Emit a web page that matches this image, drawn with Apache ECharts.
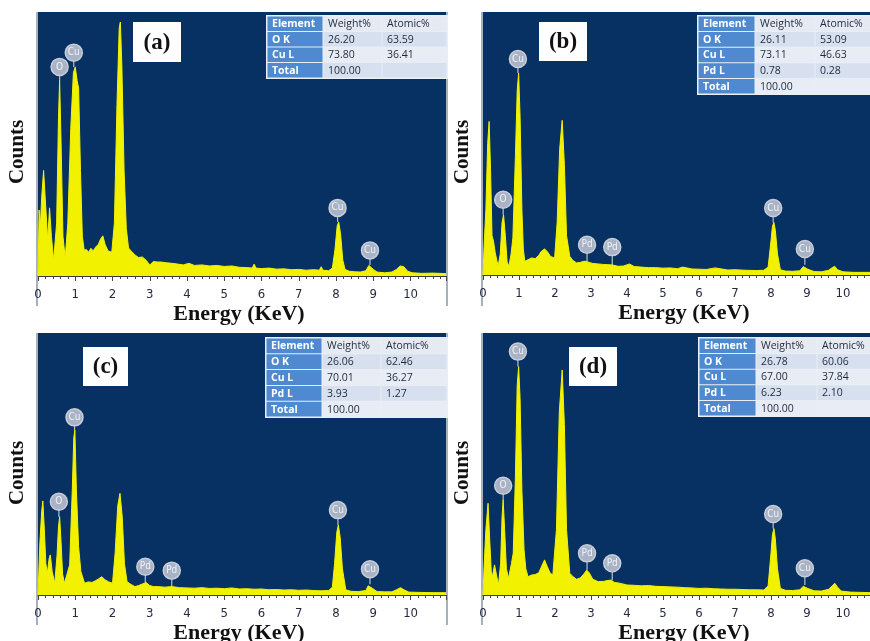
<!DOCTYPE html>
<html>
<head>
<meta charset="utf-8">
<script src="https://cdn.jsdelivr.net/npm/echarts@6/dist/echarts.min.js"></script>
<style>
  html, body { margin: 0; padding: 0; background: #fff; }
  #chart { width: 870px; height: 641px; }
</style>
</head>
<body>
<div id="chart"></div>
<script>
// EDS spectra, counts on an arbitrary 0-1000 scale (top of each panel = 1000)
var specA = [
  [0.00, 0], [0.03, 250], [0.06, 180], [0.10, 300], [0.15, 400], [0.20, 280], [0.26, 136], [0.31, 258],
  [0.36, 150], [0.42, 60], [0.50, 200], [0.55, 600], [0.58, 742], [0.62, 500], [0.67, 150], [0.73, 68],
  [0.80, 200], [0.88, 560], [0.95, 770], [1.00, 792], [1.05, 740], [1.09, 712], [1.14, 400], [1.19, 150],
  [1.24, 98], [1.30, 100], [1.36, 90], [1.42, 105], [1.48, 95], [1.55, 110], [1.62, 120], [1.68, 140],
  [1.74, 152], [1.80, 120], [1.88, 95], [1.98, 90], [2.05, 200], [2.12, 650], [2.18, 940], [2.21, 962],
  [2.25, 800], [2.31, 400], [2.37, 180], [2.43, 106], [2.50, 95], [2.60, 80], [2.70, 70], [2.80, 72],
  [2.90, 60], [3.00, 42], [3.10, 55], [3.20, 53], [3.30, 53], [3.45, 50], [3.60, 48], [3.75, 45],
  [3.90, 42], [4.05, 48], [4.20, 40], [4.40, 42], [4.60, 38], [4.80, 40], [5.00, 36], [5.20, 38],
  [5.40, 33], [5.60, 32], [5.75, 30], [5.80, 45], [5.85, 30], [6.00, 28], [6.20, 30], [6.40, 26],
  [6.60, 27], [6.80, 24], [7.00, 25], [7.20, 22], [7.40, 24], [7.55, 22], [7.60, 35], [7.65, 22],
  [7.80, 20], [7.90, 30], [7.97, 100], [8.03, 190], [8.07, 205], [8.12, 160], [8.18, 60], [8.24, 25],
  [8.35, 18], [8.50, 16], [8.65, 15], [8.80, 20], [8.88, 40], [8.93, 42], [9.00, 25], [9.10, 15],
  [9.30, 12], [9.50, 15], [9.62, 25], [9.72, 38], [9.82, 35], [9.92, 18], [10.05, 12], [10.30, 10],
  [10.60, 11], [10.95, 9]
];
var specB = [
  [0.00, 0], [0.03, 109], [0.08, 250], [0.13, 500], [0.17, 584], [0.21, 400], [0.25, 150], [0.29, 130],
  [0.34, 84], [0.42, 33], [0.48, 80], [0.53, 200], [0.57, 229], [0.62, 150], [0.67, 50], [0.72, 33],
  [0.78, 80], [0.83, 141], [0.90, 450], [0.95, 700], [0.99, 768], [1.03, 600], [1.08, 250], [1.12, 100],
  [1.16, 52], [1.25, 58], [1.35, 65], [1.45, 62], [1.55, 75], [1.62, 90], [1.71, 99], [1.78, 90],
  [1.88, 70], [1.99, 65], [2.06, 200], [2.13, 480], [2.20, 588], [2.26, 420], [2.32, 150], [2.41, 71],
  [2.50, 55], [2.60, 46], [2.70, 48], [2.80, 52], [2.87, 52], [2.95, 48], [3.05, 44], [3.20, 42],
  [3.35, 40], [3.50, 39], [3.60, 38], [3.75, 33], [3.90, 34], [4.07, 42], [4.20, 32], [4.40, 30],
  [4.60, 28], [4.80, 28], [5.00, 26], [5.20, 27], [5.40, 24], [5.55, 30], [5.60, 24], [5.80, 23],
  [6.00, 22], [6.20, 21], [6.45, 27], [6.50, 20], [6.80, 19], [7.00, 20], [7.30, 18], [7.60, 17],
  [7.80, 18], [7.92, 30], [8.00, 130], [8.04, 185], [8.08, 200], [8.12, 170], [8.18, 80], [8.26, 20],
  [8.40, 15], [8.60, 14], [8.80, 16], [8.90, 32], [8.95, 39], [9.02, 22], [9.20, 13], [9.40, 12],
  [9.60, 18], [9.70, 28], [9.77, 33], [9.85, 20], [10.00, 12], [10.30, 10], [10.75, 10]
];
var specC = [
  [0.00, 0], [0.05, 200], [0.10, 320], [0.13, 359], [0.17, 250], [0.21, 120], [0.25, 83], [0.30, 140],
  [0.33, 153], [0.38, 90], [0.45, 45], [0.51, 150], [0.55, 260], [0.58, 299], [0.62, 200], [0.66, 80],
  [0.71, 45], [0.78, 80], [0.85, 115], [0.92, 400], [0.96, 600], [0.99, 630], [1.03, 400], [1.09, 184],
  [1.15, 90], [1.25, 45], [1.35, 50], [1.45, 48], [1.55, 55], [1.63, 62], [1.71, 70], [1.80, 58],
  [1.90, 50], [2.00, 45], [2.07, 160], [2.14, 340], [2.20, 388], [2.26, 300], [2.32, 120], [2.39, 51],
  [2.50, 40], [2.60, 32], [2.70, 36], [2.80, 42], [2.90, 48], [3.00, 36], [3.10, 32], [3.20, 32],
  [3.40, 30], [3.60, 32], [3.80, 28], [4.00, 27], [4.20, 26], [4.40, 28], [4.60, 25], [4.80, 26],
  [5.00, 24], [5.20, 27], [5.40, 23], [5.60, 24], [5.80, 22], [6.00, 23], [6.20, 20], [6.40, 21],
  [6.60, 19], [6.80, 20], [7.00, 18], [7.20, 19], [7.40, 17], [7.60, 16], [7.80, 17], [7.90, 30],
  [7.96, 120], [8.02, 240], [8.06, 267], [8.11, 220], [8.17, 100], [8.26, 20], [8.40, 14], [8.60, 13],
  [8.80, 17], [8.86, 35], [8.91, 41], [8.98, 25], [9.10, 13], [9.30, 12], [9.50, 12], [9.62, 20],
  [9.73, 28], [9.82, 20], [9.95, 11], [10.20, 10], [10.60, 9], [10.95, 9]
];
var specD = [
  [0.00, 0], [0.03, 108], [0.08, 250], [0.14, 350], [0.19, 200], [0.23, 90], [0.26, 70], [0.32, 115],
  [0.37, 80], [0.43, 38], [0.49, 120], [0.53, 300], [0.56, 363], [0.60, 250], [0.65, 100], [0.71, 64],
  [0.79, 120], [0.84, 160], [0.90, 450], [0.95, 800], [0.99, 872], [1.03, 750], [1.08, 400], [1.14, 172],
  [1.19, 100], [1.25, 70], [1.35, 76], [1.45, 78], [1.55, 85], [1.63, 110], [1.71, 134], [1.78, 110],
  [1.86, 85], [1.94, 76], [2.04, 250], [2.12, 700], [2.20, 859], [2.26, 650], [2.32, 250], [2.41, 83],
  [2.50, 70], [2.60, 60], [2.70, 65], [2.80, 80], [2.88, 95], [2.95, 85], [3.05, 60], [3.20, 51],
  [3.35, 52], [3.45, 55], [3.56, 57], [3.65, 48], [3.80, 45], [4.00, 38], [4.20, 37], [4.40, 35],
  [4.60, 36], [4.80, 33], [5.00, 32], [5.20, 31], [5.40, 30], [5.60, 28], [5.80, 27], [6.00, 25],
  [6.20, 26], [6.40, 24], [6.60, 23], [6.80, 22], [7.00, 22], [7.20, 21], [7.40, 20], [7.60, 20],
  [7.80, 19], [7.92, 35], [8.00, 160], [8.04, 230], [8.08, 254], [8.12, 215], [8.18, 100], [8.26, 25],
  [8.40, 18], [8.60, 17], [8.80, 20], [8.90, 33], [8.95, 38], [9.02, 25], [9.20, 16], [9.40, 15],
  [9.60, 22], [9.70, 35], [9.77, 45], [9.85, 30], [9.95, 15], [10.20, 11], [10.50, 10], [10.75, 9]
];

// peak markers: [energy, marker centre, peak top, element]
var peaksA = [[0.58, 792, 742, 'O'], [0.96, 846, 792, 'Cu'], [8.04, 258, 205, 'Cu'], [8.91, 97, 42, 'Cu']];
var peaksB = [[0.56, 286, 229, 'O'], [0.97, 821, 768, 'Cu'], [2.89, 115, 52, 'Pd'], [3.59, 106, 38, 'Pd'], [8.06, 255, 200, 'Cu'], [8.94, 99, 39, 'Cu']];
var peaksC = [[0.56, 356, 299, 'O'], [0.98, 678, 630, 'Cu'], [2.88, 108, 48, 'Pd'], [3.59, 93, 32, 'Pd'], [8.05, 324, 267, 'Cu'], [8.91, 98, 41, 'Cu']];
var peaksD = [[0.56, 417, 363, 'O'], [0.97, 929, 872, 'Cu'], [2.89, 159, 95, 'Pd'], [3.59, 121, 57, 'Pd'], [8.06, 309, 254, 'Cu'], [8.94, 102, 38, 'Cu']];

// composition tables
var tableHead = ['Element', 'Weight%', 'Atomic%'];
var tableA = [['O K', '26.20', '63.59'], ['Cu L', '73.80', '36.41'], ['Total', '100.00', '']];
var tableB = [['O K', '26.11', '53.09'], ['Cu L', '73.11', '46.63'], ['Pd L', '0.78', '0.28'], ['Total', '100.00', '']];
var tableC = [['O K', '26.06', '62.46'], ['Cu L', '70.01', '36.27'], ['Pd L', '3.93', '1.27'], ['Total', '100.00', '']];
var tableD = [['O K', '26.78', '60.06'], ['Cu L', '67.00', '37.84'], ['Pd L', '6.23', '2.10'], ['Total', '100.00', '']];

var panelNames = ['(a)', '(b)', '(c)', '(d)'];
var xTicks = [0, 1, 2, 3, 4, 5, 6, 7, 8, 9, 10];

var spectra = [specA, specB, specC, specD];
var peaks = [peaksA, peaksB, peaksC, peaksD];
var tables = [tableA, tableB, tableC, tableD];

// layout
var panels = [
  { left: 38, top: 12, width: 408, height: 264, xmax: 10.95, box: [133, 22, 48, 40], tbl: [267, 16, [56, 59, 65], 15.5], frame: [37, 446, 306] },
  { left: 483, top: 12, width: 387, height: 263, xmax: 10.75, box: [539, 22, 48, 39], tbl: [698, 16, [57, 60, 56], 15.6], frame: [482, null, 306] },
  { left: 38, top: 333, width: 408, height: 262, xmax: 10.95, box: [83, 347, 45, 39], tbl: [266, 338, [56, 59, 66], 15.8], frame: [37, 446, 625] },
  { left: 483, top: 333, width: 387, height: 262, xmax: 10.75, box: [569, 347, 48, 39], tbl: [699, 338, [57, 61, 55], 15.6], frame: [482, null, 625] }
];

var chart = echarts.init(document.getElementById('chart'));

var grids = [], xAxes = [], yAxes = [], series = [], graphics = [];

panels.forEach(function (p, i) {
  grids.push({ left: p.left, top: p.top, width: p.width, height: p.height, show: true, backgroundColor: '#073163', borderWidth: 0 });
  xAxes.push({
    gridIndex: i, type: 'value', min: 0, max: p.xmax, interval: 1,
    axisLine: { show: true, onZero: false, lineStyle: { color: '#3a3a3a', width: 1 } },
    axisTick: { show: true, length: 5, lineStyle: { color: '#444' } },
    minorTick: { show: true, splitNumber: 5, length: 3, lineStyle: { color: '#444' } },
    splitLine: { show: false },
    axisLabel: {
      margin: 12, color: '#252a40', fontSize: 13, fontFamily: 'DejaVu Sans Condensed, DejaVu Sans',
      formatter: function (v) { return xTicks.indexOf(v) >= 0 ? String(v) : ''; },
      showMaxLabel: false
    }
  });
  yAxes.push({
    gridIndex: i, type: 'value', min: 0, max: 1000,
    axisLine: { show: false }, axisTick: { show: false }, axisLabel: { show: false }, splitLine: { show: false }
  });
  series.push({
    type: 'line', xAxisIndex: i, yAxisIndex: i, data: spectra[i],
    showSymbol: false, smooth: false, silent: true,
    lineStyle: { color: '#f2f200', width: 1 },
    areaStyle: { color: '#f2f200', opacity: 1 }
  });
  series.push({
    type: 'custom', xAxisIndex: i, yAxisIndex: i, data: peaks[i], silent: true,
    renderItem: function (params, api) {
      var c = api.coord([api.value(0), api.value(1)]);
      var t = api.coord([api.value(0), api.value(2)]);
      var r = 8.5;
      return {
        type: 'group',
        children: [
          { type: 'line', shape: { x1: c[0], y1: c[1] + r, x2: t[0], y2: t[1] }, style: { stroke: '#b8c0ce', lineWidth: 1.2 } },
          { type: 'circle', shape: { cx: c[0], cy: c[1], r: r }, style: { fill: '#a9b3c5', stroke: '#c6cdd8', lineWidth: 1.5 } },
          { type: 'text', style: { x: c[0], y: c[1], text: peaks[params.seriesIndex >> 1][params.dataIndex][3], fill: '#eef2f8', fontSize: 10, fontFamily: 'DejaVu Sans Condensed, DejaVu Sans', align: 'center', verticalAlign: 'middle' } }
        ]
      };
    }
  });

  // panel frame lines
  graphics.push({ type: 'line', shape: { x1: p.frame[0], y1: p.top, x2: p.frame[0], y2: p.frame[2] }, style: { stroke: '#8a96aa', lineWidth: 1.5 } });
  if (p.frame[1]) {
    graphics.push({ type: 'line', shape: { x1: p.frame[1] + 1, y1: p.top, x2: p.frame[1] + 1, y2: p.frame[2] }, style: { stroke: '#8a96aa', lineWidth: 1.5 } });
  }

  // axis titles
  graphics.push({
    type: 'text', x: p.left + 201, y: p.top + p.height + 38,
    style: { text: 'Energy (KeV)', font: 'bold 22px "Liberation Serif", serif', fill: '#111', align: 'center', verticalAlign: 'middle' }
  });
  graphics.push({
    type: 'text', x: p.left - 20, y: p.top + 140, rotation: Math.PI / 2,
    style: { text: 'Counts', font: 'bold 21px "Liberation Serif", serif', fill: '#111', align: 'center', verticalAlign: 'middle' }
  });

  // panel letter box
  var b = p.box;
  graphics.push({ type: 'rect', shape: { x: b[0], y: b[1], width: b[2], height: b[3] }, style: { fill: '#ffffff' } });
  graphics.push({
    type: 'text', x: b[0] + b[2] / 2, y: b[1] + b[3] / 2 + 1,
    style: { text: panelNames[i], font: 'bold 23px "Liberation Serif", serif', fill: '#111', align: 'center', verticalAlign: 'middle' }
  });

  // composition table
  var tx = p.tbl[0], ty = p.tbl[1], cw = p.tbl[2], rh = p.tbl[3];
  var rows = [tableHead].concat(tables[i]);
  var totalW = cw[0] + cw[1] + cw[2];
  graphics.push({ type: 'rect', shape: { x: tx - 1, y: ty - 1, width: totalW + 2, height: rh * rows.length + 2 }, style: { fill: '#e9eef5' } });
  rows.forEach(function (row, r) {
    var cx = tx;
    row.forEach(function (cell, c) {
      var fill;
      if (c === 0) fill = '#4f8ad0';
      else if (r === 0) fill = '#e6ebf3';
      else fill = (r % 2 === 1) ? '#d7e0ee' : '#e8edf5';
      graphics.push({ type: 'rect', shape: { x: cx + 0.5, y: ty + r * rh + 0.5, width: cw[c] - 1, height: rh - 1 }, style: { fill: fill } });
      if (cell) {
        graphics.push({
          type: 'text', x: cx + 5, y: ty + r * rh + rh / 2 + 0.5,
          style: {
            text: cell, fill: c === 0 ? '#ffffff' : '#1e2a3c', verticalAlign: 'middle', align: 'left',
            font: (c === 0 ? 'bold ' : '') + '10.5px "Open Sans", sans-serif'
          }
        });
      }
      cx += cw[c];
    });
  });
});

chart.setOption({
  backgroundColor: '#ffffff',
  animation: false,
  grid: grids,
  xAxis: xAxes,
  yAxis: yAxes,
  series: series,
  graphic: { elements: graphics }
});
</script>
</body>
</html>
